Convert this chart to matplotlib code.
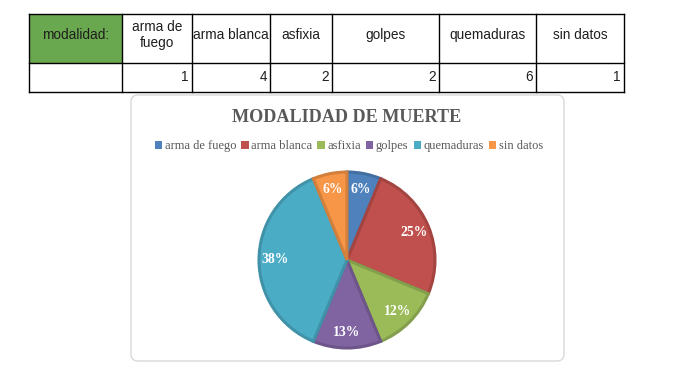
import matplotlib
matplotlib.use("Agg")
import matplotlib.pyplot as plt
from matplotlib.patches import FancyBboxPatch, Patch
import matplotlib.colors as mcolors

# ---- data ----
categories = ["arma de fuego", "arma blanca", "asfixia", "golpes", "quemaduras", "sin datos"]
header_labels = ["arma de\nfuego", "arma blanca", "asfixia", "golpes", "quemaduras", "sin datos"]
counts = [1, 4, 2, 2, 6, 1]
pct_labels = ["6%", "25%", "12%", "13%", "38%", "6%"]
first_col_label = "modalidad:"
title = "MODALIDAD DE MUERTE"

colors = ["#4F81BD", "#C0504D", "#9BBB59", "#8064A2", "#4BACC6", "#F79646"]

W, H = 679, 372
fig = plt.figure(figsize=(W / 100, H / 100), dpi=100)
fig.patch.set_facecolor("white")

def fx(px):
    return px / W

def fy(py):
    return 1 - py / H

# ---- table (drawn in pixel coordinates of a full-figure axes) ----
tax = fig.add_axes([0, 0, 1, 1], zorder=0)
tax.set_axis_off()
tax.set_xlim(0, W)
tax.set_ylim(H, 0)
col_px = [93, 70, 78, 62, 107, 97, 88]
x0, top, mid, bot = 29, 14, 63, 92
edges = [x0]
for w in col_px:
    edges.append(edges[-1] + w)
tax.add_patch(plt.Rectangle((edges[0], top), edges[1] - edges[0], mid - top,
                            facecolor="#6AA84F", edgecolor="none"))
for e in edges:
    tax.plot([e, e], [top, bot], color="black", lw=1.0, solid_capstyle="projecting")
for yy in (top, mid, bot):
    tax.plot([edges[0], edges[-1]], [yy, yy], color="black", lw=1.0, solid_capstyle="projecting")
hdr = [first_col_label] + header_labels
for i, txt in enumerate(hdr):
    cx = (edges[i] + edges[i + 1]) / 2
    tax.text(cx, 35, txt, ha="center", va="center", fontfamily="Liberation Sans",
             fontsize=9.8, color="#1E1E1E", linespacing=1.1)
for i, c in enumerate(counts):
    tax.text(edges[i + 2] - 3, 77, str(c), ha="right", va="center",
             fontfamily="Liberation Sans", fontsize=9.8, color="#1E1E1E")

# ---- chart box ----
box = FancyBboxPatch((131, 95), 564 - 131, 361 - 95,
                     boxstyle="round,pad=0,rounding_size=7",
                     facecolor="white", edgecolor="#D9D9D9", linewidth=1.0, zorder=1)
tax.add_patch(box)

tax.text(347, 117, title, ha="center", va="center", zorder=3,
         fontfamily="Liberation Serif", fontweight="bold", fontsize=13.1, color="#595959")

# legend
handles = [Patch(facecolor=c, edgecolor="none") for c in colors]
fig.legend(handles, categories, loc="center", bbox_to_anchor=(fx(349), fy(146)),
           ncol=6, frameon=False, prop={"family": "Liberation Serif", "size": 9},
           handlelength=0.6, handleheight=0.6, handletextpad=0.2, columnspacing=0.4,
           labelcolor="#595959")

# ---- pie ----
R = 88
pad = 3
pax = fig.add_axes([fx(347 - R - pad), fy(260 + R + pad), (2 * (R + pad)) / W, (2 * (R + pad)) / H],
                   zorder=2)
edge_cols = [tuple(v * 0.85 for v in mcolors.to_rgb(c)) for c in colors]
wedges, texts = pax.pie(counts, colors=colors, startangle=90, counterclock=False,
                        labels=pct_labels, labeldistance=0.82,
                        wedgeprops={"linewidth": 2.2},
                        textprops={"color": "white", "fontweight": "bold",
                                   "fontfamily": "Liberation Serif", "fontsize": 9.8,
                                   "ha": "center", "va": "center"})
for w, ec in zip(wedges, edge_cols):
    w.set_edgecolor(ec)
lim = (R + pad) / R
pax.set_xlim(-lim, lim)
pax.set_ylim(-lim, lim)
pax.set_aspect("equal")

fig.savefig("out.png", dpi=100, facecolor="white")
